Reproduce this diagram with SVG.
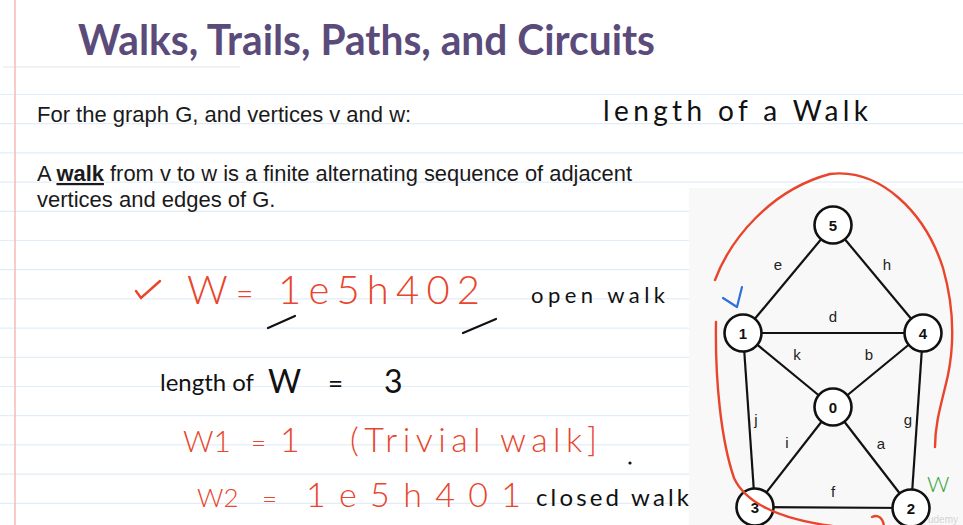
<svg xmlns="http://www.w3.org/2000/svg" width="963" height="525" viewBox="0 0 963 525">
<style>
.rule{stroke:#e2edf8;stroke-width:1.2}
.sans{font-family:"Liberation Sans",Arial,sans-serif;fill:#1a1a1a}
.hand{font-family:"Lato","DejaVu Sans",sans-serif;font-weight:300}
.red{fill:#e8452c}
.blk{fill:#111;font-weight:400}
.redline{fill:none;stroke:#e8452c;stroke-width:2.4;stroke-linecap:round}
.edge{stroke:#111;stroke-width:2.2}
.node circle{fill:#fff;stroke:#111;stroke-width:2.6}
.node text{font-family:"Liberation Sans",Arial,sans-serif;font-weight:bold;font-size:15px;fill:#111;text-anchor:middle}
.elabel{font-family:"Liberation Sans",Arial,sans-serif;font-size:15px;fill:#222;text-anchor:middle}
</style>
<rect x="0" y="0" width="963" height="525" fill="#ffffff"/>
<g id="paper">
<line x1="3" y1="67" x2="240" y2="67" stroke="#e6e6e6" stroke-width="1.2"/>
<line class="rule" x1="0" y1="94.5" x2="963" y2="94.5"/>
<line class="rule" x1="0" y1="123.7" x2="963" y2="123.7"/>
<line class="rule" x1="0" y1="152.9" x2="963" y2="152.9"/>
<line class="rule" x1="0" y1="182.1" x2="963" y2="182.1"/>
<line class="rule" x1="0" y1="211.3" x2="689" y2="211.3"/>
<line class="rule" x1="0" y1="240.5" x2="689" y2="240.5"/>
<line class="rule" x1="0" y1="269.7" x2="689" y2="269.7"/>
<line class="rule" x1="0" y1="298.9" x2="689" y2="298.9"/>
<line class="rule" x1="0" y1="328.1" x2="689" y2="328.1"/>
<line class="rule" x1="0" y1="357.3" x2="689" y2="357.3"/>
<line class="rule" x1="0" y1="386.5" x2="689" y2="386.5"/>
<line class="rule" x1="0" y1="415.7" x2="689" y2="415.7"/>
<line class="rule" x1="0" y1="444.9" x2="689" y2="444.9"/>
<line class="rule" x1="0" y1="474.1" x2="689" y2="474.1"/>
<line class="rule" x1="0" y1="503.3" x2="689" y2="503.3"/>
<line x1="15" y1="0" x2="15" y2="525" stroke="#f6b9b9" stroke-width="1.5"/>
<rect x="689" y="188" width="274" height="337" fill="#f8f8f8"/>
</g>
<text x="78" y="55" font-family="Lato,'Open Sans',sans-serif" font-weight="bold" font-size="42" fill="#5b4b7b" textLength="577" lengthAdjust="spacingAndGlyphs">Walks, Trails, Paths, and Circuits</text>
<text class="sans" x="37" y="122" font-size="22">For the graph G, and vertices v and w:</text>
<text class="sans" x="37" y="181" font-size="22" textLength="595" lengthAdjust="spacingAndGlyphs">A <tspan font-weight="bold" text-decoration="underline">walk</tspan> from v to w is a finite alternating sequence of adjacent</text>
<text class="sans" x="37" y="207" font-size="22">vertices and edges of G.</text>
<g id="notes">
<text class="hand blk" x="603" y="121" font-size="28" textLength="265" lengthAdjust="spacing">length of a Walk</text>
<polyline class="redline" points="136,291 141,298 160,281"/>
<text class="hand red" x="187" y="304" font-size="40">W</text>
<text class="hand red" x="236" y="304" font-size="30">=</text>
<text class="hand red" x="278" y="304" font-size="40" textLength="202" lengthAdjust="spacing">1e5h402</text>
<path d="M268,328 L295,316 M463,333 L496,319" stroke="#111" stroke-width="2.2" stroke-linecap="round" fill="none"/>
<text class="hand blk" x="531" y="303" font-size="22" textLength="134" lengthAdjust="spacing">open walk</text>
<text class="hand blk" x="160" y="391" font-size="24" textLength="94" lengthAdjust="spacingAndGlyphs">length of</text>
<text class="hand blk" x="268" y="393" font-size="32">W</text>
<text class="hand blk" x="328" y="393" font-size="26">=</text>
<text class="hand blk" x="384" y="393" font-size="32">3</text>
<text class="hand red" x="183" y="452" font-size="30">W1</text>
<text class="hand red" x="251" y="452" font-size="26">=</text>
<text class="hand red" x="280" y="452" font-size="34">1</text>
<text class="hand red" x="350" y="452" font-size="34" textLength="247" lengthAdjust="spacing">(Trivial walk]</text>
<circle cx="630" cy="463" r="1.6" fill="#111"/>
<text class="hand red" x="197" y="507" font-size="26">W2</text>
<text class="hand red" x="262" y="508" font-size="26">=</text>
<text class="hand red" x="306" y="507" font-size="34" textLength="215" lengthAdjust="spacing">1e5h401</text>
<text class="hand blk" x="536" y="506" font-size="24" textLength="153" lengthAdjust="spacing">closed walk</text>
</g>
<g id="connectors">
<line class="edge" x1="743" y1="333" x2="833" y2="225"/>
<line class="edge" x1="833" y1="225" x2="923" y2="333"/>
<line class="edge" x1="743" y1="333" x2="923" y2="333"/>
<line class="edge" x1="743" y1="333" x2="833" y2="407"/>
<line class="edge" x1="923" y1="333" x2="833" y2="407"/>
<line class="edge" x1="743" y1="333" x2="755" y2="507"/>
<line class="edge" x1="923" y1="333" x2="911" y2="508"/>
<line class="edge" x1="833" y1="407" x2="755" y2="507"/>
<line class="edge" x1="833" y1="407" x2="911" y2="508"/>
<line class="edge" x1="755" y1="507" x2="911" y2="508"/>
<text class="elabel" x="778" y="270">e</text>
<text class="elabel" x="887" y="270">h</text>
<text class="elabel" x="833" y="322">d</text>
<text class="elabel" x="797" y="360">k</text>
<text class="elabel" x="869" y="360">b</text>
<text class="elabel" x="756" y="425">j</text>
<text class="elabel" x="908" y="425">g</text>
<text class="elabel" x="787" y="448">i</text>
<text class="elabel" x="881" y="449">a</text>
<text class="elabel" x="833" y="497">f</text>
</g>
<g id="node-5" class="node"><circle cx="833" cy="225" r="18.5"/><text x="833" y="231">5</text></g>
<g id="node-1" class="node"><circle cx="743" cy="333" r="18.5"/><text x="743" y="339">1</text></g>
<g id="node-4" class="node"><circle cx="923" cy="333" r="18.5"/><text x="923" y="339">4</text></g>
<g id="node-0" class="node"><circle cx="833" cy="407" r="18.5"/><text x="833" y="413">0</text></g>
<g id="node-3" class="node"><circle cx="755" cy="507" r="18.5"/><text x="755" y="513">3</text></g>
<g id="node-2" class="node"><circle cx="911" cy="508" r="18.5"/><text x="911" y="514">2</text></g>
<g id="annotations">
<path class="redline" d="M715,280 C730,240 770,190 830,174 C880,168 925,212 943,268 C955,310 954,345 948,375 C942,402 935,422 935,447"/>
<path class="redline" d="M716,322 C715,380 721,440 734,478 C746,504 780,519 832,526"/>
<path class="redline" d="M872,517 C878,514 883,518 884,526"/>
<polyline points="723,298 737,307 742,287" fill="none" stroke="#2f6fdc" stroke-width="2.2" stroke-linecap="round" stroke-linejoin="round"/>
<text x="927" y="492" font-family="Lato,'DejaVu Sans',sans-serif" font-weight="300" font-size="22" fill="#3aa33a">W</text>
<text x="928" y="523" font-family="'Liberation Sans',sans-serif" font-size="10" fill="#d4d4d4">udemy</text>
</g>
</svg>
